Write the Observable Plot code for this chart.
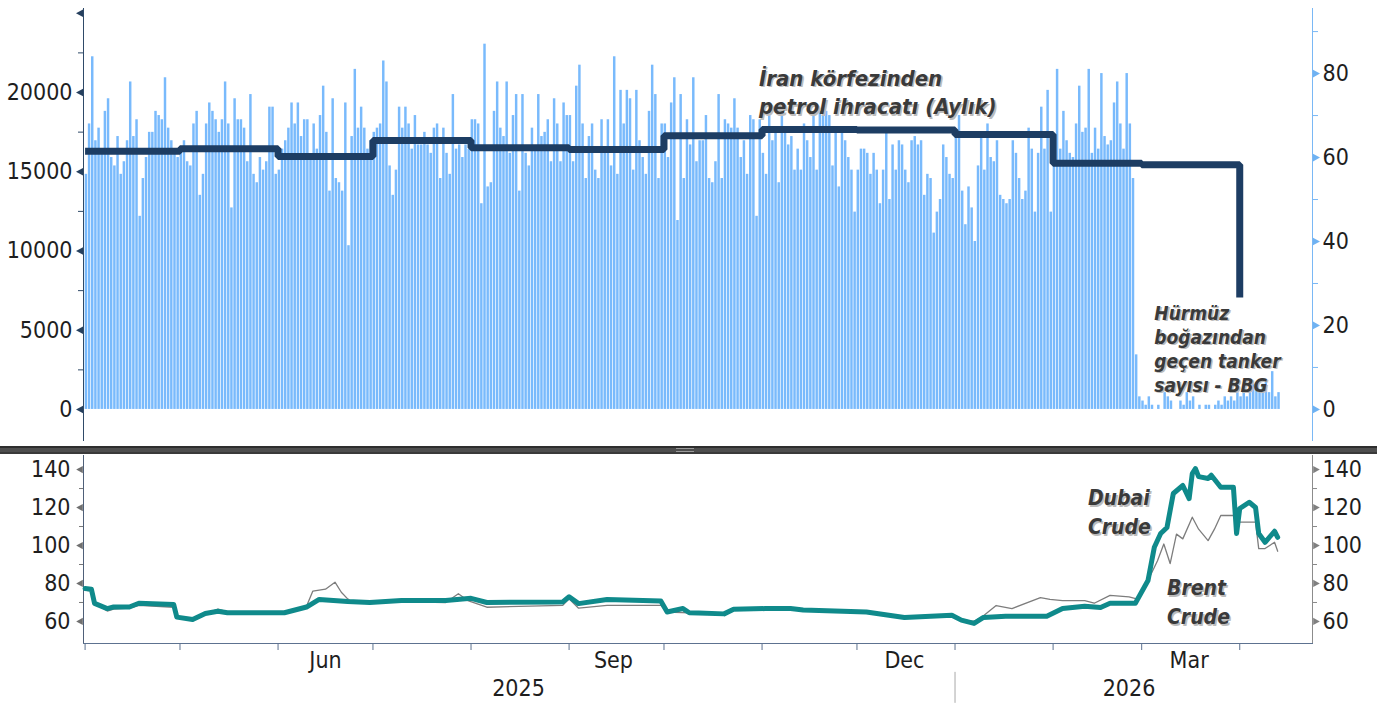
<!DOCTYPE html>
<html>
<head>
<meta charset="utf-8">
<script src="https://cdn.jsdelivr.net/npm/d3@7"></script>
<script src="https://cdn.jsdelivr.net/npm/@observablehq/plot@0.6"></script>
<style>
html, body { margin: 0; padding: 0; background: #fff; }
#wrap { position: relative; width: 1377px; height: 705px; overflow: hidden; background: #fff; }
#wrap svg { position: absolute; left: 0; font-stretch: condensed; }
#sep { position: absolute; left: 0; top: 446px; width: 1377px; height: 8px; background: #4e4e4e; border-top: 2px solid #2e2e2e; border-bottom: 2px solid #3a3a3a; box-sizing: border-box; }
#grip { position: absolute; left: 676px; top: 0px; width: 18px; height: 2px; border-top: 1px solid #9a9a9a; border-bottom: 1px solid #9a9a9a; }
</style>
</head>
<body>
<div id="wrap"></div>
<script>
// ---------------- DATA ----------------
// Daily tankers through the Strait of Hormuz (right axis, top panel), starting 2025-04-01
const tankerStartDate = "2025-04-01";
const tankerCounts = [
  56,68,84,64,67,62,71,74,60,58,65,56,59,64,78,65,69,46,55,60,66,66,71,70,69,79,67,64,61,60,62,64,59,58,68,71,51,56,68,73,71,69,66,69,78,68,48,74,69,69,67,59,75,56,54,60,57,
  59,72,72,56,57,62,64,67,73,68,73,65,69,69,60,68,62,70,77,66,52,74,55,54,52,73,39,65,81,67,72,67,62,64,66,67,68,83,78,58,51,57,72,67,72,68,62,70,63,63,66,63,61,67,68,55,
  67,61,56,75,62,63,60,63,62,69,69,68,49,87,53,54,71,78,67,65,78,61,70,75,52,75,61,58,67,62,75,65,66,69,59,74,68,59,73,70,70,59,77,82,68,55,65,68,57,55,69,61,69,58,84,56,
  76,68,76,74,57,76,64,60,56,71,82,75,55,68,68,60,73,79,45,75,55,69,63,79,59,64,64,70,55,54,59,75,55,69,68,67,74,67,60,64,56,70,69,46,69,61,56,71,64,66,54,71,66,63,65,57,
  62,57,68,64,60,70,57,71,70,71,70,58,66,53,66,64,60,57,47,57,62,62,61,56,61,57,49,57,66,50,63,57,64,63,57,54,64,65,63,64,51,56,55,42,47,50,63,60,56,55,66,70,52,44,53,48,40,
  58,66,57,68,60,59,64,51,50,49,50,64,61,55,50,52,67,62,47,61,72,62,76,47,60,81,62,71,64,61,60,68,77,66,67,81,61,67,62,80,65,63,64,73,78,68,62,80,68,55,
  13,3,2,1,3,1,0,1,0,4,3,2,0,0,2,1,4,2,3,0,1,0,1,1,0,1,2,1,3,2,3,2,4,3,5,3,4,6,5,4,6,7,4,9,3,4
];

// Monthly oil exports from Iranian Gulf (left axis, top panel)
const exportMonths = ["2025-04-01","2025-05-01","2025-06-01","2025-07-01","2025-08-01","2025-09-01","2025-10-01","2025-11-01","2025-12-01","2026-01-01","2026-02-01","2026-03-01","2026-04-01"];
const exportValues = [16300,16450,15960,16970,16510,16400,17270,17660,17640,17350,15540,15440,7070];

// Dubai Crude (bottom panel)
const dubaiDates = ["2025-04-01","2025-04-03","2025-04-04","2025-04-08","2025-04-10","2025-04-15","2025-04-18","2025-04-29","2025-04-30","2025-05-05","2025-05-09","2025-05-13","2025-05-16","2025-06-03","2025-06-10","2025-06-14","2025-06-23","2025-06-30","2025-07-10","2025-07-24","2025-08-01","2025-08-06","2025-08-30","2025-09-01","2025-09-04","2025-09-13","2025-09-30","2025-10-02","2025-10-07","2025-10-09","2025-10-12","2025-10-20","2025-10-23","2025-11-02","2025-11-10","2025-11-14","2025-12-04","2025-12-16","2025-12-31","2026-01-03","2026-01-07","2026-01-10","2026-01-17","2026-01-30","2026-02-04","2026-02-11","2026-02-16","2026-02-19","2026-02-27","2026-03-03","2026-03-05","2026-03-07","2026-03-09","2026-03-11","2026-03-14","2026-03-16","2026-03-17","2026-03-18","2026-03-19","2026-03-22","2026-03-23","2026-03-26","2026-03-30","2026-03-31","2026-04-01","2026-04-04","2026-04-06","2026-04-07","2026-04-09","2026-04-12","2026-04-13"];
const dubaiValues = [77.4,77,69.5,66.8,67.6,67.6,69.6,69,62.3,61,64.2,65.4,64.6,64.6,67.6,71.6,70.5,70,71,71,72.2,70,70.3,73,69.4,71.6,70.8,65,66.8,64.6,64.4,64,66.4,66.8,66.8,66,65,62.1,63.3,60.7,59,62.1,62.7,62.7,66.8,68,67.4,69.6,69.6,81.6,99.1,106.3,109.5,127.4,131.6,124.7,137.9,140.5,136.3,135.3,137,130.7,130.7,106.3,119.5,122.8,120,106.3,101.7,107.5,104.3];

// Brent Crude (bottom panel)
const brentDates = ["2025-04-01","2025-04-03","2025-04-04","2025-04-08","2025-04-10","2025-04-15","2025-04-18","2025-04-29","2025-04-30","2025-05-05","2025-05-09","2025-05-13","2025-05-16","2025-06-03","2025-06-10","2025-06-12","2025-06-16","2025-06-19","2025-06-21","2025-06-23","2025-06-25","2025-07-10","2025-07-24","2025-07-28","2025-07-31","2025-08-06","2025-08-30","2025-09-01","2025-09-04","2025-09-13","2025-09-30","2025-10-02","2025-10-09","2025-10-20","2025-10-23","2025-11-02","2025-11-14","2025-12-04","2025-12-16","2025-12-31","2026-01-03","2026-01-07","2026-01-10","2026-01-14","2026-01-19","2026-01-28","2026-01-31","2026-02-04","2026-02-11","2026-02-14","2026-02-19","2026-02-25","2026-02-28","2026-03-03","2026-03-06","2026-03-08","2026-03-10","2026-03-12","2026-03-14","2026-03-17","2026-03-19","2026-03-22","2026-03-24","2026-03-26","2026-03-30","2026-04-01","2026-04-06","2026-04-07","2026-04-09","2026-04-12","2026-04-13"];
const brentValues = [76.5,76,70,65.5,66.5,67,68.5,67.5,62,61,64,66.5,65,65,68,76,77,80.7,75.4,71.9,69.5,70.5,70,74.6,71,67.5,68.5,72,67,68.5,68.5,65,64.5,64,66,66.5,66,65,62,63,61,60,63,68.4,66.8,72.6,71.6,71,71,69.6,73.7,72.9,71.6,81.6,92,100.8,90.5,106,103.5,114.9,108.6,102.6,108.6,115.8,115.8,112.3,112.3,98.4,98.4,101.7,97];

// Axis ticks and labels
const leftTicksTop = [0, 5000, 10000, 15000, 20000];
const leftMarkersTop = [0, 5000, 10000, 15000, 20000, 25000];
const leftMinorTop = [2500, 7500, 12500, 17500, 22500];
const rightTicksTop = [0, 20, 40, 60, 80];
const rightMinorTop = [10, 30, 50, 70, 90];
const priceTicks = [60, 80, 100, 120, 140];
const priceMinor = [70, 90, 110, 130];
const monthLabelDates = ["2025-06-16", "2025-09-15", "2025-12-16", "2026-03-16"];
const monthLabels = ["Jun", "Sep", "Dec", "Mar"];
const yearLabelDates = ["2025-08-16", "2026-02-25"];
const yearLabels = ["2025", "2026"];
const yearBoundary = "2026-01-01";

// Annotations
const exportsLabel = "İran körfezinden\npetrol ihracatı (Aylık)";
const tankerLabel = "Hürmüz\nboğazından\ngeçen tanker\nsayısı - BBG";
const dubaiLabel = "Dubai\nCrude";
const brentLabel = "Brent\nCrude";

// ---------------- CHART ----------------
const FONT = '"DejaVu Sans Condensed", "DejaVu Sans", sans-serif';
const W = 1377, ML = 83, MR = 65;
const xDomain = [new Date("2025-03-31T12:00:00Z"), new Date("2026-04-24T00:00:00Z")];
const baseStyle = {fontFamily: FONT, fontSize: "23px", color: "#1e1e1e", background: "none", overflow: "visible"};
const plain = d => String(d);

const start = new Date(tankerStartDate);
const tankers = tankerCounts.map((v, i) => ({d0: d3.utcDay.offset(start, i), d1: d3.utcDay.offset(start, i + 1), v}));
const exportsData = exportMonths.map((d, i) => ({date: new Date(d), v: exportValues[i]}));
const dubai = dubaiDates.map((d, i) => ({date: new Date(d), v: dubaiValues[i]}));
const brent = brentDates.map((d, i) => ({date: new Date(d), v: brentValues[i]}));

function triSymbol(dir) {
  return {
    draw(ctx, size) {
      const r = Math.sqrt(size / Math.PI);
      const h = r * 1.1;
      if (dir === "left") { ctx.moveTo(-r, 0); ctx.lineTo(r, -h); ctx.lineTo(r, h); }
      else { ctx.moveTo(r, 0); ctx.lineTo(-r, -h); ctx.lineTo(-r, h); }
      ctx.closePath();
    }
  };
}
const triL = triSymbol("left"), triR = triSymbol("right");

function annot(text, x, y, size, lh) {
  const data = [{t: text, x: new Date(x), y}];
  const common = {x: "x", y: "y", text: "t", textAnchor: "start", lineAnchor: "top", fontSize: size,
    fontWeight: "bold", fontStyle: "italic", lineHeight: lh, fontFamily: FONT};
  return [
    Plot.text(data, {...common, fill: "#bcbcbc", dx: 1.6, dy: 1.6}),
    Plot.text(data, {...common, fill: "#3a3a3a"})
  ];
}

// Top panel, right axis: tanker bars
const plotA = Plot.plot({
  width: W, height: 445, marginTop: 8, marginBottom: 5, marginLeft: ML, marginRight: MR,
  x: {type: "utc", domain: xDomain, axis: null},
  y: {domain: [-7.4, 95.5], axis: null},
  style: baseStyle,
  marks: [
    Plot.rectY(tankers, {x1: "d0", x2: "d1", y: "v", fill: "#79bafc", insetLeft: 0.1, insetRight: 0.6}),
    Plot.frame({anchor: "right", stroke: "#7ab8f5"}),
    Plot.axisY(rightMinorTop, {anchor: "right", tickSize: 5, tickFormat: () => "", stroke: "#7ab8f5"}),
    Plot.axisY(rightTicksTop, {anchor: "right", tickSize: 0, tickPadding: 10, fill: "#1e1e1e", tickFormat: plain}),
    Plot.dot(rightTicksTop, {x: () => xDomain[1], y: d => d, symbol: triR, r: 3.5, fill: "#6fb2f2", stroke: null, dx: 4}),
    ...annot(tankerLabel, "2026-03-05", 25.5, 19, 1.27)
  ]
});

// Top panel, left axis: monthly exports step line
const plotB = Plot.plot({
  width: W, height: 445, marginTop: 8, marginBottom: 5, marginLeft: ML, marginRight: MR,
  x: {type: "utc", domain: xDomain, axis: null},
  y: {domain: [-1956, 25300], axis: null},
  style: baseStyle,
  marks: [
    Plot.frame({anchor: "left", stroke: "#2f4a68"}),
    Plot.axisY(leftMinorTop, {anchor: "left", tickSize: 5, tickFormat: () => "", stroke: "#2f4a68"}),
    Plot.axisY(leftTicksTop, {anchor: "left", tickSize: 0, tickPadding: 11, fill: "#1e1e1e", tickFormat: plain}),
    Plot.dot(leftMarkersTop, {x: () => xDomain[0], y: d => d, symbol: triL, r: 3.5, fill: "#26405e", stroke: null, dx: -4}),
    Plot.line(exportsData, {x: "date", y: "v", curve: "step-after", stroke: "#1d3d63", strokeWidth: 7, strokeLinejoin: "miter", strokeLinecap: "butt"}),
    ...annot(exportsLabel, "2025-10-31", 21700, 22, 1.3)
  ]
});

// Bottom panel: crude prices
const monthLabelMap = new Map(monthLabelDates.map((d, i) => [+new Date(d), monthLabels[i]]));
const yearLabelMap = new Map(yearLabelDates.map((d, i) => [+new Date(d), yearLabels[i]]));
const monthStarts = d3.utcMonth.range(new Date("2025-04-01"), new Date("2026-04-02"));

const plotC = Plot.plot({
  width: W, height: 252, marginTop: 2, marginBottom: 62, marginLeft: ML, marginRight: MR,
  x: {type: "utc", domain: xDomain, axis: null},
  y: {domain: [48.4, 147.4], axis: null},
  style: baseStyle,
  marks: [
    Plot.frame({anchor: "left", stroke: "#4f6079"}),
    Plot.frame({anchor: "right", stroke: "#8c8c8c"}),
    Plot.frame({anchor: "bottom", stroke: "#5d7290"}),
    Plot.axisY(priceMinor, {anchor: "left", tickSize: 4, tickFormat: () => "", stroke: "#777"}),
    Plot.axisY(priceMinor, {anchor: "right", tickSize: 4, tickFormat: () => "", stroke: "#888"}),
    Plot.axisY(priceTicks, {anchor: "left", tickSize: 0, tickPadding: 13, fill: "#1e1e1e", tickFormat: plain}),
    Plot.axisY(priceTicks, {anchor: "right", tickSize: 0, tickPadding: 10, fill: "#1e1e1e", tickFormat: plain}),
    Plot.dot(priceTicks, {x: () => xDomain[0], y: d => d, symbol: triL, r: 3.3, fill: "#707070", stroke: null, dx: -4}),
    Plot.dot(priceTicks, {x: () => xDomain[1], y: d => d, symbol: triR, r: 3.3, fill: "#808080", stroke: null, dx: 4}),
    Plot.axisX(monthStarts, {anchor: "bottom", tickSize: 7, tickFormat: () => "", stroke: "#5d7290"}),
    Plot.axisX(monthLabelDates.map(d => new Date(d)), {anchor: "bottom", tickSize: 0, tickPadding: 8, tickFormat: d => monthLabelMap.get(+d), fill: "#1e1e1e"}),
    Plot.axisX(yearLabelDates.map(d => new Date(d)), {anchor: "bottom", tickSize: 0, tickPadding: 36, tickFormat: d => yearLabelMap.get(+d), fill: "#1e1e1e"}),
    Plot.ruleX([new Date(yearBoundary)], {y1: 33.2, y2: 16.9, stroke: "#a8a8a8", strokeWidth: 1}),
    Plot.line(brent, {x: "date", y: "v", stroke: "#7d7d7d", strokeWidth: 1.3}),
    Plot.line(dubai, {x: "date", y: "v", stroke: "#0f8a8b", strokeWidth: 5, strokeLinejoin: "round"}),
    ...annot(dubaiLabel, "2026-02-12", 132.1, 21, 1.38),
    ...annot(brentLabel, "2026-03-09", 84.7, 21, 1.38)
  ]
});

const wrap = document.getElementById("wrap");
plotA.style.top = "0px";
plotB.style.top = "0px";
plotC.style.top = "453px";
wrap.appendChild(plotA);
wrap.appendChild(plotB);
wrap.appendChild(plotC);
const sep = document.createElement("div");
sep.id = "sep";
const grip = document.createElement("div");
grip.id = "grip";
sep.appendChild(grip);
wrap.appendChild(sep);
</script>
</body>
</html>
